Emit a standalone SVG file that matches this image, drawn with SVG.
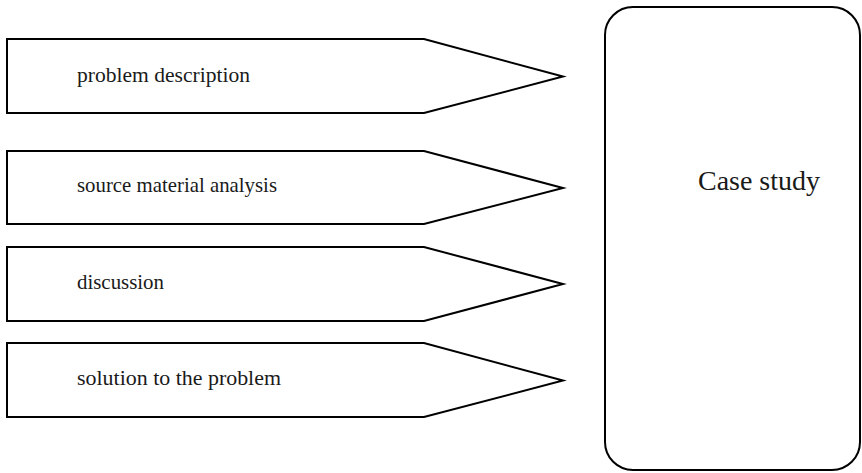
<svg xmlns="http://www.w3.org/2000/svg" width="862" height="473" viewBox="0 0 862 473">
<style>
.shape{fill:#ffffff;stroke:#000000;stroke-width:2;stroke-linejoin:miter}
.lbl{font-family:"Liberation Serif","Times New Roman",serif;font-size:21px;fill:#1a1a1a}
.big{font-family:"Liberation Serif","Times New Roman",serif;font-size:27px;fill:#1a1a1a}
</style>
<rect width="862" height="473" fill="#ffffff"/>
<g id="node-problem-description">
<polygon class="shape" points="7,39 424,39 563,76.5 424,113 7,113"/>
<text class="lbl" x="77" y="82" textLength="173" lengthAdjust="spacingAndGlyphs">problem description</text>
</g>
<g id="node-source-material-analysis">
<polygon class="shape" points="7,151 424,151 563,188 424,224 7,224"/>
<text class="lbl" x="77" y="192" textLength="200" lengthAdjust="spacingAndGlyphs">source material analysis</text>
</g>
<g id="node-discussion">
<polygon class="shape" points="7,247 424,247 563,284 424,321 7,321"/>
<text class="lbl" x="77" y="288.5" textLength="87" lengthAdjust="spacingAndGlyphs">discussion</text>
</g>
<g id="node-solution">
<polygon class="shape" points="7,343 424,343 563,380.5 424,417 7,417"/>
<text class="lbl" x="77" y="384.5" textLength="204" lengthAdjust="spacingAndGlyphs">solution to the problem</text>
</g>
<g id="node-case-study">
<rect class="shape" x="605" y="7" width="255" height="463" rx="28" ry="28"/>
<text class="big" x="698" y="190" textLength="122" lengthAdjust="spacingAndGlyphs">Case study</text>
</g>
<g id="connectors"/>
</svg>
